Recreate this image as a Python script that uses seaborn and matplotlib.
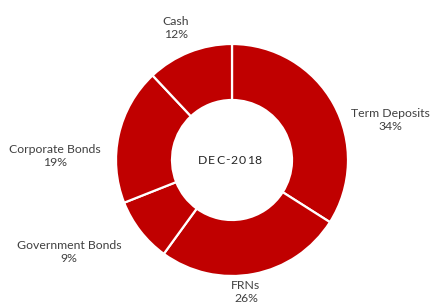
import matplotlib
matplotlib.use("Agg")
import matplotlib.pyplot as plt
import seaborn as sns

categories = ["Term Deposits", "FRNs", "Government Bonds", "Corporate Bonds", "Cash"]
values = [34, 26, 9, 19, 12]
pct_labels = ["34%", "26%", "9%", "19%", "12%"]
center_label = "DEC-2018"

sns.set_theme(style="white")
plt.rcParams["font.family"] = ["Lato", "DejaVu Sans"]

W, H = 430, 306
fig = plt.figure(figsize=(W / 100, H / 100), dpi=100)
ax = fig.add_axes([0, 0, 1, 1])

cx, cy = 232, H - 160
R = 116
width = 56
color = "#C00000"

wedges, _ = ax.pie(values, colors=[color] * len(values), startangle=90, counterclock=False,
                   center=(cx, cy), radius=R,
                   wedgeprops=dict(width=width, edgecolor="white", linewidth=1.6))
ax.set_xlim(0, W)
ax.set_ylim(0, H)
ax.set_aspect("auto")
ax.axis("off")

label_pos = [(390, 120), (246, 292), (69, 252), (55, 156), (176, 28)]
for name, pct, (px, py) in zip(categories, pct_labels, label_pos):
    ax.text(px, H - py, f"{name}\n{pct}", ha="center", va="center", fontsize=8.8,
            color="#404040", linespacing=1.2)

# center label with letter spacing (tracking)
renderer = fig.canvas.get_renderer()
fs = 8.8
track = 0.9
widths = []
for ch in center_label:
    t = ax.text(0, 0, ch, fontsize=fs)
    widths.append(t.get_window_extent(renderer).width)
    t.remove()
total = sum(widths) + track * (len(widths) - 1)
x = 230 - total / 2
for ch, w in zip(center_label, widths):
    ax.text(x, H - 160, ch, ha="left", va="center", fontsize=fs, color="#262626")
    x += w + track

fig.savefig("out.png", dpi=100)
